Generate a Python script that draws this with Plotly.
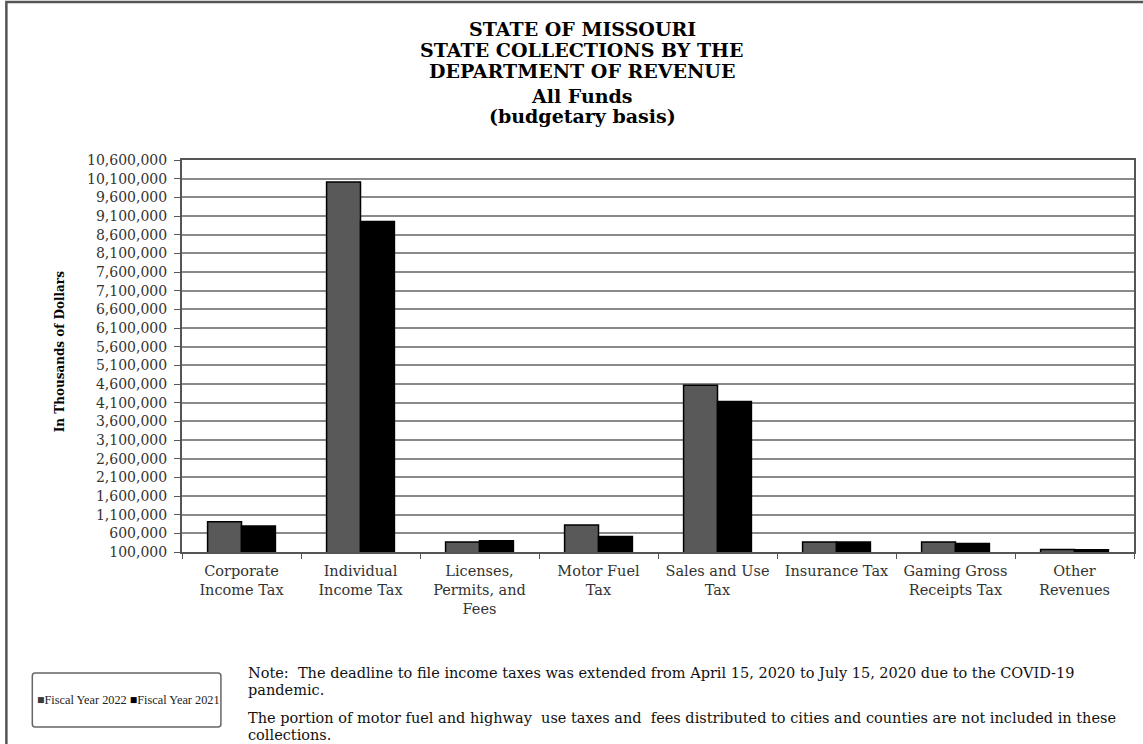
import plotly.graph_objects as go

categories = ["Corporate<br>Income Tax", "Individual<br>Income Tax", "Licenses,<br>Permits, and<br>Fees",
              "Motor Fuel<br>Tax", "Sales and Use<br>Tax", "Insurance Tax", "Gaming Gross<br>Receipts Tax",
              "Other<br>Revenues"]
fy2022 = [912000, 10010000, 368000, 824000, 4566000, 368000, 368000, 170000]
fy2021 = [797000, 8955000, 403000, 518000, 4130000, 368000, 331000, 162000]
series_names = ["Fiscal Year 2022", "Fiscal Year 2021"]
series_colors = ["#595959", "#000000"]
y_min, y_max, y_step = 100000, 10600000, 500000

title_lines = ["STATE OF MISSOURI", "STATE COLLECTIONS BY THE", "DEPARTMENT OF REVENUE",
               "All Funds", "(budgetary basis)"]
y_title = "In Thousands of Dollars"
note_lines = [
    "Note:  The deadline to file income taxes was extended from April 15, 2020 to July 15, 2020 due to the COVID-19",
    "pandemic.",
    "The portion of motor fuel and highway  use taxes and  fees distributed to cities and counties are not included in these",
    "collections.",
]

W, H = 1143, 744
L, R, T, B = 182, 7, 160, 192
PW, PH = W - L - R, H - T - B

def px_x(p):
    return (p - L) / PW

def px_y(p):
    return (H - B - p) / PH

serif = "DejaVu Serif"

fig = go.Figure()
for name, vals, col in zip(series_names, [fy2022, fy2021], series_colors):
    fig.add_trace(go.Bar(x=categories, y=vals, name=name,
                         marker=dict(color=col, line=dict(color="#000000", width=1.5))))

fig.update_layout(
    width=W, height=H,
    margin=dict(l=L, r=R, t=T, b=B),
    paper_bgcolor="white", plot_bgcolor="white",
    barmode="group", bargap=0.43, bargroupgap=0,
    showlegend=False,
    font=dict(family=serif, color="#333"),
)

fig.update_xaxes(
    type="category", tickson="boundaries", ticks="outside", ticklen=5, tickcolor="#555",
    ticklabelstandoff=5,
    showline=True, linecolor="#555", linewidth=2, mirror=True,
    tickfont=dict(family=serif, size=14.5, color="#333"), tickangle=0,
    showgrid=False,
)
fig.update_yaxes(
    range=[y_min, y_max], tick0=y_min, dtick=y_step, tickformat=",",
    ticks="outside", ticklen=6, tickcolor="#555", ticklabelstandoff=4,
    showline=True, linecolor="#555", linewidth=2, mirror=True,
    showgrid=True, gridcolor="#8a8a8a", gridwidth=1.5,
    tickfont=dict(family=serif, size=14, color="#333"),
)

annotations = []
title_y = [29, 50, 71, 96, 116]
for txt, yy in zip(title_lines, title_y):
    annotations.append(dict(text=f"<b>{txt}</b>", x=px_x(583), y=px_y(yy), xanchor="center",
                            yanchor="middle", showarrow=False,
                            font=dict(family=serif, size=19, color="#000")))
annotations.append(dict(text=f"<b>{y_title}</b>", textangle=-90,
                        x=px_x(60), y=px_y(352), xanchor="center", yanchor="middle", showarrow=False,
                        font=dict(family=serif, size=12, color="#000")))
note_y = [673, 690, 718, 735]
for txt, yy in zip(note_lines, note_y):
    annotations.append(dict(text=txt, x=px_x(246), y=px_y(yy), xanchor="left", yanchor="middle",
                            align="left", showarrow=False,
                            font=dict(family=serif, size=14.5, color="#111")))
# legend (key) inside its box
legend_text = " ".join(
    f"<span style='color:{c}'>■</span>{n}"
    for n, c in zip(series_names, ["#3a3a3a", "#000000"])
)
annotations.append(dict(text=legend_text, x=px_x(128), y=px_y(700), xanchor="center", yanchor="middle",
                        showarrow=False, font=dict(family="Liberation Serif", size=12.3, color="#222")))
for a in annotations:
    a["xref"] = "paper"
    a["yref"] = "paper"
fig.update_layout(annotations=annotations)

# rounded legend box path (pixel coords converted to paper)
bx0, bx1, by0, by1, rad = 32, 221, 673, 727, 3
box_pts = [
    ("M", bx0 + rad, by0), ("L", bx1 - rad, by0), ("Q", bx1, by0, bx1, by0 + rad),
    ("L", bx1, by1 - rad), ("Q", bx1, by1, bx1 - rad, by1), ("L", bx0 + rad, by1),
    ("Q", bx0, by1, bx0, by1 - rad), ("L", bx0, by0 + rad), ("Q", bx0, by0, bx0 + rad, by0),
]
path_parts = []
for cmd in box_pts:
    c, coords = cmd[0], cmd[1:]
    pts = []
    for i in range(0, len(coords), 2):
        pts.append(f"{px_x(coords[i])},{px_y(coords[i + 1])}")
    path_parts.append(c + " " + " ".join(pts))
box_path = " ".join(path_parts) + " Z"

shapes = [
    # outer frame
    dict(type="path", path=f"M {px_x(6)} {px_y(750)} L {px_x(6)} {px_y(2)} L {px_x(1150)} {px_y(2)}",
         xref="paper", yref="paper", line=dict(color="#555", width=2.5)),
    # legend box
    dict(type="path", path=box_path, xref="paper", yref="paper", line=dict(color="#666", width=1.5)),
]
fig.update_layout(shapes=shapes)

fig.write_html("out.html", config={"displayModeBar": False},
               post_script="document.body.style.margin='0px';")
